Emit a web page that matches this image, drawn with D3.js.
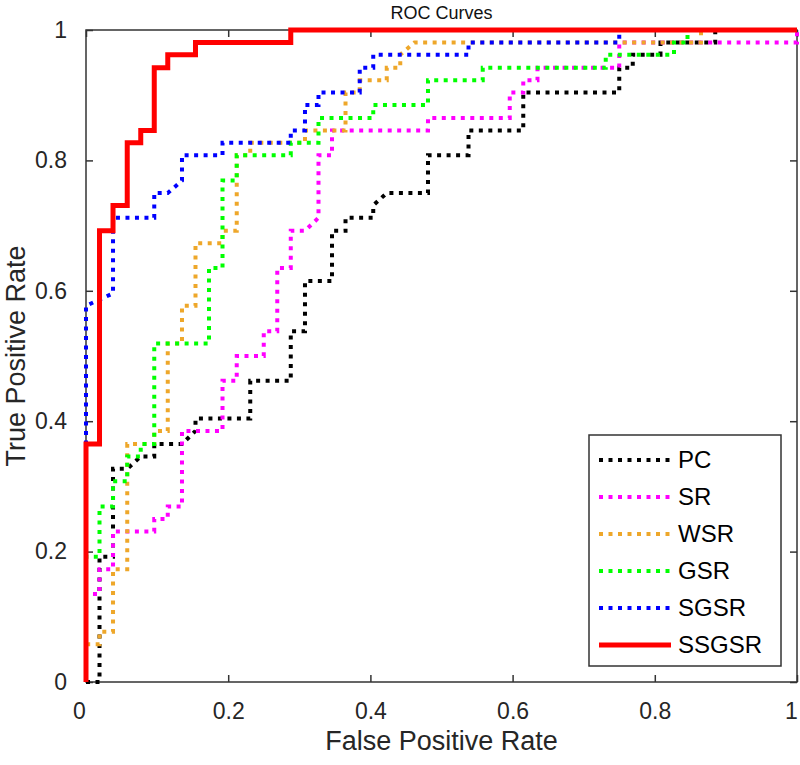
<!DOCTYPE html>
<html>
<head>
<meta charset="utf-8">
<script src="https://cdn.jsdelivr.net/npm/d3@7"></script>
<style>
  html, body { margin: 0; padding: 0; background: #fff; }
  svg { display: block; font-family: "Liberation Sans", Arial, sans-serif; }
</style>
</head>
<body>
<svg id="chart" width="800" height="765"></svg>
<script>
// ---- data ----
const seriesNames = ["PC", "SR", "WSR", "GSR", "SGSR", "SSGSR"];
const seriesColors = ["#000000", "#ff00ff", "#eea72a", "#00ff00", "#0000ff", "#ff0000"];

const pcFPR  = [0,0.019,0.019,0.038,0.038,0.058,0.077,0.096,0.096,0.135,0.154,0.154,0.231,0.231,0.288,0.288,0.308,0.308,0.346,0.346,0.365,0.365,0.404,0.404,0.423,0.481,0.481,0.538,0.538,0.615,0.615,0.75,0.75,0.769,0.769,0.808,0.808,0.885,0.885,1];
const pcTPR  = [0,0,0.192,0.192,0.327,0.327,0.346,0.346,0.365,0.365,0.385,0.404,0.404,0.462,0.462,0.538,0.538,0.615,0.615,0.692,0.692,0.712,0.712,0.731,0.75,0.75,0.808,0.808,0.846,0.846,0.904,0.904,0.942,0.942,0.962,0.962,0.981,0.981,1,1];

const srFPR  = [0,0,0.019,0.019,0.038,0.038,0.096,0.096,0.115,0.115,0.135,0.135,0.192,0.192,0.212,0.212,0.25,0.25,0.269,0.269,0.288,0.288,0.308,0.327,0.327,0.346,0.346,0.481,0.481,0.596,0.596,0.615,0.615,0.635,0.635,0.75,0.75,1,1];
const srTPR  = [0,0.135,0.135,0.173,0.173,0.231,0.231,0.25,0.25,0.269,0.269,0.385,0.385,0.462,0.462,0.5,0.5,0.538,0.538,0.635,0.635,0.692,0.692,0.712,0.808,0.808,0.846,0.846,0.865,0.865,0.904,0.904,0.923,0.923,0.942,0.942,0.981,0.981,1];

const wsrFPR = [0,0,0.019,0.019,0.038,0.038,0.058,0.058,0.096,0.096,0.115,0.115,0.135,0.135,0.154,0.154,0.192,0.192,0.212,0.212,0.231,0.231,0.308,0.308,0.365,0.365,0.385,0.385,0.423,0.423,0.442,0.442,0.462,0.865,0.865,1];
const wsrTPR = [0,0.058,0.058,0.077,0.077,0.173,0.173,0.365,0.365,0.385,0.385,0.519,0.519,0.577,0.577,0.673,0.673,0.692,0.692,0.808,0.808,0.827,0.827,0.846,0.846,0.904,0.904,0.923,0.923,0.942,0.942,0.962,0.981,0.981,1,1];

const gsrFPR = [0,0,0.019,0.019,0.038,0.038,0.058,0.058,0.077,0.077,0.096,0.096,0.173,0.173,0.192,0.192,0.212,0.212,0.288,0.288,0.327,0.327,0.404,0.404,0.481,0.481,0.558,0.558,0.731,0.731,0.827,0.827,0.846,0.846,1];
const gsrTPR = [0,0.192,0.192,0.269,0.269,0.308,0.308,0.346,0.346,0.365,0.365,0.519,0.519,0.635,0.635,0.769,0.769,0.808,0.808,0.827,0.827,0.865,0.865,0.885,0.885,0.923,0.923,0.942,0.942,0.962,0.962,0.981,0.981,1,1];

const sgsrFPR = [0,0,0.038,0.038,0.096,0.096,0.115,0.135,0.135,0.192,0.192,0.288,0.288,0.308,0.308,0.327,0.327,0.385,0.385,0.404,0.404,0.538,0.538,0.75,0.75,1];
const sgsrTPR = [0,0.577,0.596,0.712,0.712,0.75,0.75,0.769,0.808,0.808,0.827,0.827,0.846,0.846,0.885,0.885,0.904,0.904,0.942,0.942,0.962,0.962,0.981,0.981,1,1];

const ssgsrFPR = [0,0,0.019,0.019,0.038,0.038,0.058,0.058,0.077,0.077,0.096,0.096,0.115,0.115,0.154,0.154,0.288,0.288,1];
const ssgsrTPR = [0,0.365,0.365,0.692,0.692,0.731,0.731,0.827,0.827,0.846,0.846,0.942,0.942,0.962,0.962,0.981,0.981,1,1];

const xTickValues = [0, 0.2, 0.4, 0.6, 0.8, 1];
const xTickLabels = ["0", "0.2", "0.4", "0.6", "0.8", "1"];
const yTickValues = [0, 0.2, 0.4, 0.6, 0.8, 1];
const yTickLabels = ["0", "0.2", "0.4", "0.6", "0.8", "1"];

const titleText = "ROC Curves";
const xLabelText = "False Positive Rate";
const yLabelText = "True Positive Rate";

// ---- layout ----
const L = 86, R = 797, T = 30, B = 682;
const svg = d3.select("#chart");
const x = d3.scaleLinear().domain([0, 1]).range([L, R]);
const y = d3.scaleLinear().domain([0, 1]).range([B, T]);
const axisColor = "#333333";
const textColor = "#262626";

const allFPR = [pcFPR, srFPR, wsrFPR, gsrFPR, sgsrFPR, ssgsrFPR];
const allTPR = [pcTPR, srTPR, wsrTPR, gsrTPR, sgsrTPR, ssgsrTPR];
const series = seriesNames.map((name, k) => ({
  name, color: seriesColors[k], solid: k === 5,
  points: allFPR[k].map((f, i) => [f, allTPR[k][i]])
}));

svg.append("rect").attr("x", 0).attr("y", 0).attr("width", 800).attr("height", 765).attr("fill", "#fff");

// axes
function styleAxis(g) {
  g.select(".domain").remove();
  g.selectAll(".tick line").attr("stroke", axisColor).attr("stroke-width", 1.5);
  g.selectAll(".tick text").attr("fill", textColor).attr("font-size", 23)
    .attr("font-family", '"Liberation Sans", Arial, sans-serif');
}
const gx = svg.append("g").attr("transform", `translate(0,${B})`)
  .call(d3.axisBottom(x).tickValues(xTickValues).tickFormat((d, i) => xTickLabels[i]).tickSizeInner(-7).tickSizeOuter(0).tickPadding(21))
  .call(styleAxis);
// end labels sit slightly inward, as in the reference
gx.selectAll(".tick text").attr("dx", (d, i, n) => i === 0 ? -7 : (i === n.length - 1 ? -6 : 0));
svg.append("g").attr("transform", `translate(${L},0)`)
  .call(d3.axisLeft(y).tickValues(yTickValues).tickFormat((d, i) => yTickLabels[i]).tickSizeInner(-7).tickSizeOuter(0).tickPadding(19))
  .call(styleAxis);
svg.append("g").attr("transform", `translate(0,${T})`)
  .call(d3.axisTop(x).tickValues(xTickValues).tickFormat("").tickSizeInner(-7).tickSizeOuter(0))
  .call(styleAxis);
svg.append("g").attr("transform", `translate(${R},0)`)
  .call(d3.axisRight(y).tickValues(yTickValues).tickFormat("").tickSizeInner(-7).tickSizeOuter(0))
  .call(styleAxis);

// box
svg.append("rect").attr("x", L).attr("y", T).attr("width", R - L).attr("height", B - T)
  .attr("fill", "none").attr("stroke", axisColor).attr("stroke-width", 1.5);

// curves (on top of the box)
const line = d3.line().x(d => x(d[0])).y(d => y(d[1]));
const gLines = svg.append("g");
series.forEach(s => {
  gLines.append("path")
    .attr("d", line(s.points))
    .attr("fill", "none")
    .attr("stroke", s.color)
    .attr("stroke-width", s.solid ? 5 : 4)
    .attr("stroke-dasharray", s.solid ? null : "4 5.5")
    .attr("stroke-linejoin", "miter");
});

// labels
svg.append("text").attr("x", (L + R) / 2).attr("y", 19).attr("text-anchor", "middle")
  .attr("font-size", 18).attr("fill", "#111").text(titleText);
svg.append("text").attr("x", (L + R) / 2).attr("y", 750).attr("text-anchor", "middle")
  .attr("font-size", 27).attr("fill", textColor).text(xLabelText);
svg.append("text").attr("transform", `translate(25,${(T + B) / 2}) rotate(-90)`).attr("text-anchor", "middle")
  .attr("font-size", 27).attr("fill", textColor).text(yLabelText);

// legend
const lg = svg.append("g");
lg.append("rect").attr("x", 589).attr("y", 435).attr("width", 192).attr("height", 231)
  .attr("fill", "#fff").attr("stroke", axisColor).attr("stroke-width", 1.5);
series.forEach((s, k) => {
  const yy = 460 + k * 37;
  lg.append("line").attr("x1", 599).attr("x2", 671).attr("y1", yy).attr("y2", yy)
    .attr("stroke", s.color).attr("stroke-width", s.solid ? 5 : 4)
    .attr("stroke-dasharray", s.solid ? null : "4 5.5");
  lg.append("text").attr("x", 678).attr("y", yy).attr("dy", "0.35em")
    .attr("font-size", 24).attr("fill", "#000").text(s.name);
});
</script>
</body>
</html>
